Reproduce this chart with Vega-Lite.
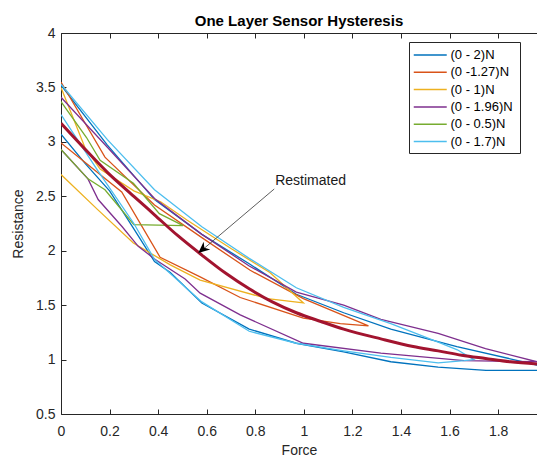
{
  "$schema": "https://vega.github.io/schema/vega-lite/v6.json",
  "width": 476,
  "height": 381,
  "autosize": {"type": "none"},
  "padding": {"left": 61, "top": 33, "right": 0, "bottom": 43},
  "background": "white",
  "title": {"text": "One Layer Sensor Hysteresis", "font": "Liberation Sans", "fontSize": 15, "fontWeight": "bold", "color": "#000000", "anchor": "middle", "offset": -3},
  "datasets": {
    "loops": [
      {"s": "(0 - 2)N", "i": 1, "x": 0, "y": 3.07},
      {"s": "(0 - 2)N", "i": 2, "x": 0.1, "y": 2.8},
      {"s": "(0 - 2)N", "i": 3, "x": 0.2, "y": 2.55},
      {"s": "(0 - 2)N", "i": 4, "x": 0.3, "y": 2.2},
      {"s": "(0 - 2)N", "i": 5, "x": 0.385, "y": 1.9},
      {"s": "(0 - 2)N", "i": 6, "x": 0.45, "y": 1.8},
      {"s": "(0 - 2)N", "i": 7, "x": 0.58, "y": 1.52},
      {"s": "(0 - 2)N", "i": 8, "x": 0.775, "y": 1.28},
      {"s": "(0 - 2)N", "i": 9, "x": 0.969, "y": 1.15},
      {"s": "(0 - 2)N", "i": 10, "x": 1.164, "y": 1.07},
      {"s": "(0 - 2)N", "i": 11, "x": 1.358, "y": 0.98},
      {"s": "(0 - 2)N", "i": 12, "x": 1.553, "y": 0.93},
      {"s": "(0 - 2)N", "i": 13, "x": 1.75, "y": 0.9},
      {"s": "(0 - 2)N", "i": 14, "x": 1.96, "y": 0.9},
      {"s": "(0 - 2)N", "i": 15, "x": 2.0, "y": 0.91},
      {"s": "(0 - 2)N", "i": 16, "x": 1.96, "y": 0.95},
      {"s": "(0 - 2)N", "i": 17, "x": 1.63, "y": 1.12},
      {"s": "(0 - 2)N", "i": 18, "x": 1.358, "y": 1.28},
      {"s": "(0 - 2)N", "i": 19, "x": 1.164, "y": 1.43},
      {"s": "(0 - 2)N", "i": 20, "x": 0.969, "y": 1.6},
      {"s": "(0 - 2)N", "i": 21, "x": 0.775, "y": 1.88},
      {"s": "(0 - 2)N", "i": 22, "x": 0.58, "y": 2.15},
      {"s": "(0 - 2)N", "i": 23, "x": 0.385, "y": 2.47},
      {"s": "(0 - 2)N", "i": 24, "x": 0.191, "y": 2.97},
      {"s": "(0 - 2)N", "i": 25, "x": 0, "y": 3.52},

      {"s": "(0 -1.27)N", "i": 1, "x": 0, "y": 2.99},
      {"s": "(0 -1.27)N", "i": 2, "x": 0.25, "y": 2.54},
      {"s": "(0 -1.27)N", "i": 3, "x": 0.408, "y": 1.94},
      {"s": "(0 -1.27)N", "i": 4, "x": 0.573, "y": 1.76},
      {"s": "(0 -1.27)N", "i": 5, "x": 0.738, "y": 1.57},
      {"s": "(0 -1.27)N", "i": 6, "x": 0.998, "y": 1.38},
      {"s": "(0 -1.27)N", "i": 7, "x": 1.15, "y": 1.33},
      {"s": "(0 -1.27)N", "i": 8, "x": 1.266, "y": 1.31},
      {"s": "(0 -1.27)N", "i": 9, "x": 0.998, "y": 1.56},
      {"s": "(0 -1.27)N", "i": 10, "x": 0.779, "y": 1.82},
      {"s": "(0 -1.27)N", "i": 11, "x": 0.58, "y": 2.12},
      {"s": "(0 -1.27)N", "i": 12, "x": 0.385, "y": 2.42},
      {"s": "(0 -1.27)N", "i": 13, "x": 0.181, "y": 2.86},
      {"s": "(0 -1.27)N", "i": 14, "x": 0, "y": 3.55},

      {"s": "(0 - 1)N", "i": 1, "x": 0, "y": 2.7},
      {"s": "(0 - 1)N", "i": 2, "x": 0.15, "y": 2.38},
      {"s": "(0 - 1)N", "i": 3, "x": 0.298, "y": 2.07},
      {"s": "(0 - 1)N", "i": 4, "x": 0.45, "y": 1.87},
      {"s": "(0 - 1)N", "i": 5, "x": 0.573, "y": 1.73},
      {"s": "(0 - 1)N", "i": 6, "x": 0.85, "y": 1.56},
      {"s": "(0 - 1)N", "i": 7, "x": 0.998, "y": 1.52},
      {"s": "(0 - 1)N", "i": 8, "x": 0.86, "y": 1.8},
      {"s": "(0 - 1)N", "i": 9, "x": 0.7, "y": 2.02},
      {"s": "(0 - 1)N", "i": 10, "x": 0.52, "y": 2.28},
      {"s": "(0 - 1)N", "i": 11, "x": 0.41, "y": 2.45},
      {"s": "(0 - 1)N", "i": 12, "x": 0.3, "y": 2.55},
      {"s": "(0 - 1)N", "i": 13, "x": 0.161, "y": 2.75},
      {"s": "(0 - 1)N", "i": 14, "x": 0.098, "y": 2.95},
      {"s": "(0 - 1)N", "i": 15, "x": 0, "y": 3.5},

      {"s": "(0 - 1.96)N", "i": 1, "x": 0, "y": 2.93},
      {"s": "(0 - 1.96)N", "i": 2, "x": 0.111, "y": 2.66},
      {"s": "(0 - 1.96)N", "i": 3, "x": 0.153, "y": 2.47},
      {"s": "(0 - 1.96)N", "i": 4, "x": 0.252, "y": 2.22},
      {"s": "(0 - 1.96)N", "i": 5, "x": 0.318, "y": 2.04},
      {"s": "(0 - 1.96)N", "i": 6, "x": 0.388, "y": 1.92},
      {"s": "(0 - 1.96)N", "i": 7, "x": 0.511, "y": 1.74},
      {"s": "(0 - 1.96)N", "i": 8, "x": 0.573, "y": 1.61},
      {"s": "(0 - 1.96)N", "i": 9, "x": 0.738, "y": 1.41},
      {"s": "(0 - 1.96)N", "i": 10, "x": 0.998, "y": 1.15},
      {"s": "(0 - 1.96)N", "i": 11, "x": 1.317, "y": 1.06},
      {"s": "(0 - 1.96)N", "i": 12, "x": 1.66, "y": 0.99},
      {"s": "(0 - 1.96)N", "i": 13, "x": 1.96, "y": 0.98},
      {"s": "(0 - 1.96)N", "i": 14, "x": 1.748, "y": 1.1},
      {"s": "(0 - 1.96)N", "i": 15, "x": 1.553, "y": 1.24},
      {"s": "(0 - 1.96)N", "i": 16, "x": 1.317, "y": 1.37},
      {"s": "(0 - 1.96)N", "i": 17, "x": 1.164, "y": 1.5},
      {"s": "(0 - 1.96)N", "i": 18, "x": 0.969, "y": 1.62},
      {"s": "(0 - 1.96)N", "i": 19, "x": 0.775, "y": 1.86},
      {"s": "(0 - 1.96)N", "i": 20, "x": 0.58, "y": 2.15},
      {"s": "(0 - 1.96)N", "i": 21, "x": 0.385, "y": 2.48},
      {"s": "(0 - 1.96)N", "i": 22, "x": 0.191, "y": 2.95},
      {"s": "(0 - 1.96)N", "i": 23, "x": 0, "y": 3.41},

      {"s": "(0 - 0.5)N", "i": 1, "x": 0, "y": 2.93},
      {"s": "(0 - 0.5)N", "i": 2, "x": 0.111, "y": 2.66},
      {"s": "(0 - 0.5)N", "i": 3, "x": 0.181, "y": 2.56},
      {"s": "(0 - 0.5)N", "i": 4, "x": 0.3, "y": 2.24},
      {"s": "(0 - 0.5)N", "i": 5, "x": 0.503, "y": 2.23},
      {"s": "(0 - 0.5)N", "i": 6, "x": 0.405, "y": 2.34},
      {"s": "(0 - 0.5)N", "i": 7, "x": 0.298, "y": 2.62},
      {"s": "(0 - 0.5)N", "i": 8, "x": 0.161, "y": 2.83},
      {"s": "(0 - 0.5)N", "i": 9, "x": 0.105, "y": 3.04},
      {"s": "(0 - 0.5)N", "i": 10, "x": 0, "y": 3.37},

      {"s": "(0 - 1.7)N", "i": 1, "x": 0, "y": 3.25},
      {"s": "(0 - 1.7)N", "i": 2, "x": 0.15, "y": 2.74},
      {"s": "(0 - 1.7)N", "i": 3, "x": 0.3, "y": 2.25},
      {"s": "(0 - 1.7)N", "i": 4, "x": 0.385, "y": 1.92},
      {"s": "(0 - 1.7)N", "i": 5, "x": 0.58, "y": 1.53},
      {"s": "(0 - 1.7)N", "i": 6, "x": 0.775, "y": 1.26},
      {"s": "(0 - 1.7)N", "i": 7, "x": 0.969, "y": 1.15},
      {"s": "(0 - 1.7)N", "i": 8, "x": 1.164, "y": 1.08},
      {"s": "(0 - 1.7)N", "i": 9, "x": 1.358, "y": 1.02},
      {"s": "(0 - 1.7)N", "i": 10, "x": 1.553, "y": 0.97},
      {"s": "(0 - 1.7)N", "i": 11, "x": 1.66, "y": 0.99},
      {"s": "(0 - 1.7)N", "i": 12, "x": 1.7, "y": 1.0},
      {"s": "(0 - 1.7)N", "i": 13, "x": 1.632, "y": 1.09},
      {"s": "(0 - 1.7)N", "i": 14, "x": 1.553, "y": 1.16},
      {"s": "(0 - 1.7)N", "i": 15, "x": 1.358, "y": 1.33},
      {"s": "(0 - 1.7)N", "i": 16, "x": 1.164, "y": 1.48},
      {"s": "(0 - 1.7)N", "i": 17, "x": 0.969, "y": 1.66},
      {"s": "(0 - 1.7)N", "i": 18, "x": 0.775, "y": 1.93},
      {"s": "(0 - 1.7)N", "i": 19, "x": 0.58, "y": 2.22},
      {"s": "(0 - 1.7)N", "i": 20, "x": 0.385, "y": 2.56},
      {"s": "(0 - 1.7)N", "i": 21, "x": 0.191, "y": 3.02},
      {"s": "(0 - 1.7)N", "i": 22, "x": 0, "y": 3.53}
    ],
    "est": [
      {"x": 0, "y": 3.17},
      {"x": 0.1, "y": 2.93},
      {"x": 0.191, "y": 2.72},
      {"x": 0.3, "y": 2.5},
      {"x": 0.385, "y": 2.33},
      {"x": 0.48, "y": 2.14},
      {"x": 0.58, "y": 1.96},
      {"x": 0.68, "y": 1.79},
      {"x": 0.775, "y": 1.65},
      {"x": 0.87, "y": 1.53},
      {"x": 0.969, "y": 1.43},
      {"x": 1.07, "y": 1.35},
      {"x": 1.164, "y": 1.28},
      {"x": 1.317, "y": 1.19},
      {"x": 1.45, "y": 1.12},
      {"x": 1.553, "y": 1.08},
      {"x": 1.65, "y": 1.04},
      {"x": 1.748, "y": 1.01},
      {"x": 1.85, "y": 0.98},
      {"x": 1.96, "y": 0.96}
    ],
    "arrow": [{"x1": 0.878, "y1": 2.567, "x2": 0.57, "y2": 1.985}],
    "head": [{"x": 0.565, "y": 1.98}],
    "note": [{"x": 0.882, "y": 2.64, "t": "Restimated"}]
  },
  "config": {
    "view": {"stroke": null},
    "axis": {
      "domainColor": "#262626", "domainWidth": 1,
      "tickColor": "#262626", "tickSize": -5, "tickWidth": 1,
      "labelColor": "#262626", "labelFont": "Liberation Sans", "labelFontSize": 14, "labelFlush": false,
      "titleColor": "#262626", "titleFont": "Liberation Sans", "titleFontSize": 14, "titleFontWeight": "normal",
      "grid": false
    },
    "legend": {
      "strokeColor": "#262626", "fillColor": "white", "padding": 4,
      "symbolType": "M-1,0H3", "symbolSize": 272, "symbolStrokeWidth": 1.5,
      "labelFont": "Liberation Sans", "labelFontSize": 13, "labelColor": "#000000",
      "labelOffset": 19.5, "rowPadding": 1.3
    }
  },
  "resolve": {"axis": {"x": "independent", "y": "independent"}},
  "layer": [
    {
      "data": {"name": "loops"},
      "mark": {"type": "line", "strokeWidth": 1.3, "clip": true},
      "encoding": {
        "x": {"field": "x", "type": "quantitative",
              "scale": {"domain": [0, 1.96], "nice": false, "zero": false},
              "axis": {"orient": "bottom", "values": [0, 0.2, 0.4, 0.6, 0.8, 1, 1.2, 1.4, 1.6, 1.8], "format": "~g", "title": "Force", "labelPadding": 15, "titlePadding": 5}},
        "y": {"field": "y", "type": "quantitative",
              "scale": {"domain": [0.5, 4], "nice": false, "zero": false},
              "axis": {"orient": "left", "values": [0.5, 1, 1.5, 2, 2.5, 3, 3.5, 4], "format": "~g", "title": "Resistance", "labelPadding": 11, "titlePadding": 10}},
        "color": {"field": "s", "type": "nominal",
                  "scale": {"domain": ["(0 - 2)N", "(0 -1.27)N", "(0 - 1)N", "(0 - 1.96)N", "(0 - 0.5)N", "(0 - 1.7)N"],
                            "range": ["#0072BD", "#D95319", "#EDB120", "#7E2F8E", "#77AC30", "#4DBEEE"]},
                  "legend": {"title": "\u00a0", "titleOrient": "right", "titleFontSize": 10, "titlePadding": 3, "orient": "none", "legendX": 348, "legendY": 9}},
        "order": {"field": "i", "type": "quantitative"}
      }
    },
    {
      "data": {"name": "est"},
      "mark": {"type": "line", "color": "#A2142F", "strokeWidth": 3, "interpolate": "monotone", "clip": true},
      "encoding": {
        "x": {"field": "x", "type": "quantitative",
              "scale": {"domain": [0, 1.96], "nice": false, "zero": false},
              "axis": {"orient": "top", "values": [0, 0.2, 0.4, 0.6, 0.8, 1, 1.2, 1.4, 1.6, 1.8], "labels": false, "title": null}},
        "y": {"field": "y", "type": "quantitative",
              "scale": {"domain": [0.5, 4], "nice": false, "zero": false}, "axis": null}
      }
    },
    {
      "data": {"name": "arrow"},
      "mark": {"type": "rule", "color": "#333333", "strokeWidth": 0.8},
      "encoding": {
        "x": {"field": "x1", "type": "quantitative", "scale": {"domain": [0, 1.96], "nice": false, "zero": false}, "axis": null},
        "y": {"field": "y1", "type": "quantitative", "scale": {"domain": [0.5, 4], "nice": false, "zero": false}, "axis": null},
        "x2": {"field": "x2"},
        "y2": {"field": "y2"}
      }
    },
    {
      "data": {"name": "head"},
      "mark": {"type": "point", "shape": "M0,0L-0.45,1L0,0.7L0.45,1Z", "filled": true, "color": "#000000", "opacity": 1, "size": 520, "angle": 230},
      "encoding": {
        "x": {"field": "x", "type": "quantitative", "scale": {"domain": [0, 1.96], "nice": false, "zero": false}, "axis": null},
        "y": {"field": "y", "type": "quantitative", "scale": {"domain": [0.5, 4], "nice": false, "zero": false}, "axis": null}
      }
    },
    {
      "data": {"name": "note"},
      "mark": {"type": "text", "align": "left", "baseline": "middle", "font": "Liberation Sans", "fontSize": 14, "color": "#1a1a1a"},
      "encoding": {
        "x": {"field": "x", "type": "quantitative", "scale": {"domain": [0, 1.96], "nice": false, "zero": false}, "axis": null},
        "y": {"field": "y", "type": "quantitative", "scale": {"domain": [0.5, 4], "nice": false, "zero": false}, "axis": null},
        "text": {"field": "t"}
      }
    }
  ]
}
